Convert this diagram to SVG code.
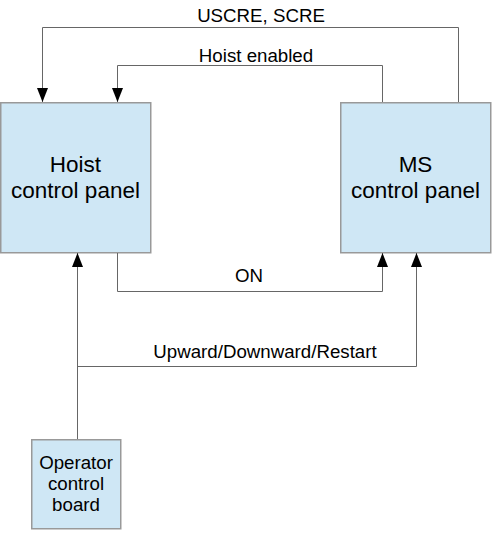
<svg xmlns="http://www.w3.org/2000/svg" width="499" height="533" viewBox="0 0 499 533">
<style>
.box{fill:#cfe7f5;stroke:#999;stroke-width:1.5}
.lbl{font-family:"Liberation Sans",Arial,sans-serif;font-size:22.5px;fill:#000;text-anchor:middle}
.sm{font-family:"Liberation Sans",Arial,sans-serif;font-size:18.7px;fill:#000;text-anchor:middle}
.con{fill:none;stroke:#666;stroke-width:1}
</style>
<defs>
<marker id="arr" markerUnits="userSpaceOnUse" markerWidth="14" markerHeight="11" refX="14" refY="5.5" orient="auto" viewBox="0 0 14 11">
<path d="M0,0 L14,5.5 L0,11 Z" fill="#000"/>
</marker>
</defs>
<rect width="499" height="533" fill="#fff"/>
<g id="hoist">
<rect class="box" x="0.75" y="102.75" width="150" height="150"/>
<text class="lbl"><tspan x="75.5" y="172">Hoist</tspan><tspan x="75.5" y="198">control panel</tspan></text>
</g>
<g id="ms">
<rect class="box" x="340.75" y="102.75" width="150" height="150"/>
<text class="lbl"><tspan x="415.5" y="172">MS</tspan><tspan x="415.5" y="198">control panel</tspan></text>
</g>
<g id="operator">
<rect class="box" x="31.75" y="439.75" width="89" height="89"/>
<text class="sm"><tspan x="76" y="469">Operator</tspan><tspan x="76" y="490">control</tspan><tspan x="76" y="511">board</tspan></text>
</g>
<g id="connectors">
<path class="con" d="M458.5,102 V27.5 H42.5 V102" marker-end="url(#arr)"/>
<path class="con" d="M382.5,102 V65.5 H117.5 V102" marker-end="url(#arr)"/>
<path class="con" d="M117.5,253 V291.5 H382.5 V253" marker-end="url(#arr)"/>
<path class="con" d="M77.5,439 V253" marker-end="url(#arr)"/>
<path class="con" d="M77.5,366.5 H416.5 V253" marker-end="url(#arr)"/>
<text class="sm" x="261" y="22">USCRE, SCRE</text>
<text class="sm" x="256" y="62">Hoist enabled</text>
<text class="sm" x="249" y="282">ON</text>
<text class="sm" x="265" y="358">Upward/Downward/Restart</text>
</g>
</svg>
